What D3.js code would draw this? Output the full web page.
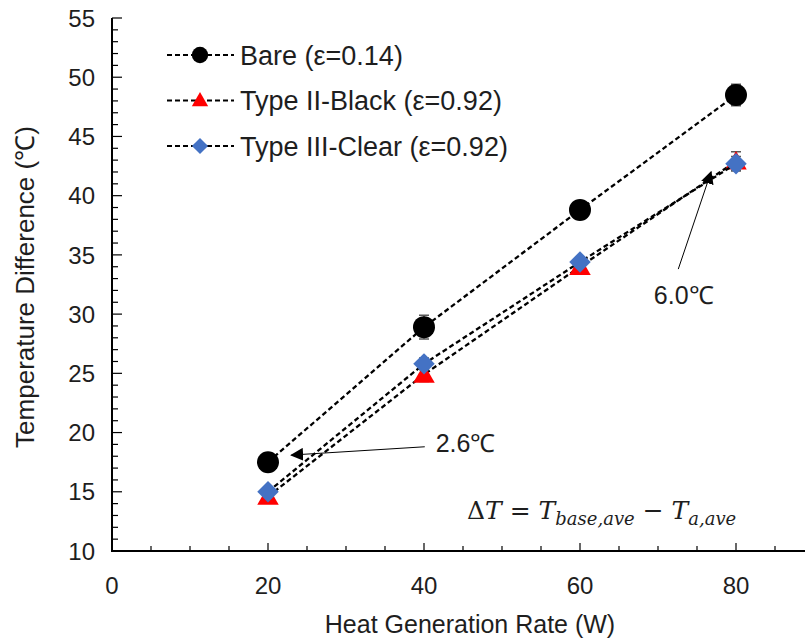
<!DOCTYPE html>
<html>
<head>
<meta charset="utf-8">
<script src="https://cdn.jsdelivr.net/npm/d3@7"></script>
<style>
  body { margin: 0; background: #fff; }
  svg { display: block; font-family: "Liberation Sans", Arial, sans-serif; }
</style>
</head>
<body>
<div id="graph"></div>
<script>
// Données
const power = [20, 40, 60, 80];
const bare = [17.5, 28.9, 38.8, 48.5];
const bareErr = [0.4, 1.0, 0.6, 0.9];
const black = [14.6, 24.9, 34.0, 42.9];
const blackErr = [0.4, 0.6, 0.5, 0.8];
const clear = [15.0, 25.8, 34.4, 42.7];
const clearErr = [0.4, 0.5, 0.4, 0.6];
const seriesNames = ["Bare (ε=0.14)", "Type II-Black (ε=0.92)", "Type III-Clear (ε=0.92)"];
const xTicks = [0, 20, 40, 60, 80];
const yTicks = [10, 15, 20, 25, 30, 35, 40, 45, 50, 55];
// annotations [x, y] en unités des données
const notes = [
  { label: "2.6℃", from: [40.1, 18.8], to: [23.0, 18.1], text: [41.5, 19.1], anchor: "start" },
  { label: "6.0℃", from: [72.6, 33.8], to: [76.8, 42.0], text: [73.3, 31.6], anchor: "middle" }
];

const W = 805, H = 642;
const svg = d3.select("#graph").append("svg")
  .attr("width", W).attr("height", H);

const x = d3.scaleLinear().domain([0, 90]).range([112, 814]);
const y = d3.scaleLinear().domain([10, 55]).range([551, 18]);

const textColor = "#1e1e1e";

// Axes
const gx = svg.append("g").attr("transform", `translate(0,${y(10)})`);
gx.append("line").attr("x1", x(0) - 1).attr("x2", W).attr("stroke", "#000").attr("stroke-width", 2);
gx.selectAll(".minor").data(d3.range(5, 90, 5)).enter().append("line")
  .attr("x1", d => x(d)).attr("x2", d => x(d))
  .attr("y1", 0).attr("y2", d => d % 20 === 0 ? -8 : -5)
  .attr("stroke", "#000").attr("stroke-width", 1.2);
gx.selectAll(".lbl").data(xTicks).enter().append("text")
  .attr("x", d => x(d)).attr("y", 43)
  .attr("text-anchor", "middle").style("font-size", "24px").attr("fill", textColor)
  .text(d => d);

const gy = svg.append("g").attr("transform", `translate(${x(0)},0)`);
gy.append("line").attr("y1", y(10)).attr("y2", y(55)).attr("stroke", "#000").attr("stroke-width", 2);
gy.selectAll(".minor").data(d3.range(11, 56, 1)).enter().append("line")
  .attr("y1", d => y(d)).attr("y2", d => y(d))
  .attr("x1", 0).attr("x2", d => d % 5 === 0 ? 10 : 6)
  .attr("stroke", "#000").attr("stroke-width", 1.2);
gy.selectAll(".lbl").data(yTicks).enter().append("text")
  .attr("x", -17).attr("y", d => y(d)).attr("dy", "0.36em")
  .attr("text-anchor", "end").style("font-size", "24px").attr("fill", textColor)
  .text(d => d);

// Titres des axes
svg.append("text")
  .attr("x", 470).attr("y", 633)
  .attr("text-anchor", "middle").style("font-size", "25px").attr("fill", textColor)
  .text("Heat Generation Rate (W)");
svg.append("text")
  .attr("transform", `translate(34,${287}) rotate(-90)`)
  .attr("text-anchor", "middle").style("font-size", "26px").attr("fill", textColor)
  .text("Temperature Difference (℃)");

// Symboles
const markers = [
  { fill: "#000", path: d3.symbol().type(d3.symbolCircle).size(380), legend: d3.symbol().type(d3.symbolCircle).size(210), rot: 0 },
  { fill: "#ff0000", path: d3.symbol().type(d3.symbolTriangle).size(200), legend: d3.symbol().type(d3.symbolTriangle).size(115), rot: 0 },
  { fill: "#4472c4", path: d3.symbol().type(d3.symbolSquare).size(230), legend: d3.symbol().type(d3.symbolSquare).size(130), rot: 45 }
];

const series = [
  { vals: bare, err: bareErr },
  { vals: black, err: blackErr },
  { vals: clear, err: clearErr }
];

const line = d3.line().x(d => x(d[0])).y(d => y(d[1]));

series.forEach((s, i) => {
  const pts = power.map((p, j) => [p, s.vals[j], s.err[j]]);
  const g = svg.append("g");
  g.append("path").datum(pts)
    .attr("d", line).attr("fill", "none")
    .attr("stroke", "#000").attr("stroke-width", 2.3)
    .attr("stroke-dasharray", "5,3");
  // barres d'erreur
  g.selectAll(".err").data(pts).enter().append("path")
    .attr("d", d => {
      const x0 = x(d[0]), y1 = y(d[1] + d[2]), y2 = y(d[1] - d[2]);
      return `M${x0 - 5},${y1}H${x0 + 5}M${x0},${y1}V${y2}M${x0 - 5},${y2}H${x0 + 5}`;
    })
    .attr("stroke", "#595959").attr("stroke-width", 1.5).attr("fill", "none");
  g.selectAll(".pt").data(pts).enter().append("path")
    .attr("d", markers[i].path)
    .attr("transform", d => `translate(${x(d[0])},${y(d[1]) + (i === 1 ? 2 : 0)}) rotate(${markers[i].rot})`)
    .attr("fill", markers[i].fill);
});

// Légende
const legend = svg.append("g");
seriesNames.forEach((name, i) => {
  const ly = 55 + i * 45.5;
  legend.append("line")
    .attr("x1", 167).attr("x2", 234).attr("y1", ly).attr("y2", ly)
    .attr("stroke", "#000").attr("stroke-width", 2).attr("stroke-dasharray", "5,3");
  legend.append("path")
    .attr("d", markers[i].legend)
    .attr("transform", `translate(200,${ly + (i === 1 ? 1 : 0)}) rotate(${markers[i].rot})`)
    .attr("fill", markers[i].fill);
  legend.append("text")
    .attr("x", 240).attr("y", ly).attr("dy", "0.36em")
    .style("font-size", "27px").attr("fill", textColor)
    .text(name);
});

// Annotations
const defs = svg.append("defs");
defs.append("marker")
  .attr("id", "arrow").attr("viewBox", "0 0 10 10")
  .attr("refX", 9).attr("refY", 5)
  .attr("markerWidth", 13).attr("markerHeight", 13)
  .attr("markerUnits", "userSpaceOnUse")
  .attr("orient", "auto")
  .append("path").attr("d", "M0,0L10,5L0,10Z").attr("fill", "#000");

notes.forEach(n => {
  svg.append("line")
    .attr("x1", x(n.from[0])).attr("y1", y(n.from[1]))
    .attr("x2", x(n.to[0])).attr("y2", y(n.to[1]))
    .attr("stroke", "#000").attr("stroke-width", 1)
    .attr("marker-end", "url(#arrow)");
  svg.append("text")
    .attr("x", x(n.text[0])).attr("y", y(n.text[1])).attr("dy", "0.36em")
    .attr("text-anchor", n.anchor)
    .style("font-size", "25px").attr("fill", textColor)
    .text(n.label);
});

// Équation
const eq = svg.append("text")
  .attr("x", 467).attr("y", 519)
  .style("font-family", "'DejaVu Serif', 'Liberation Serif', serif")
  .style("font-size", "25px").attr("fill", textColor);
eq.append("tspan").text("Δ");
eq.append("tspan").style("font-style", "italic").text("T");
eq.append("tspan").text(" =  ");
eq.append("tspan").style("font-style", "italic").text("T");
eq.append("tspan").style("font-style", "italic").style("font-size", "18px").attr("dy", 6).text("base,ave");
eq.append("tspan").attr("dy", -6).text(" − ");
eq.append("tspan").style("font-style", "italic").text("T");
eq.append("tspan").style("font-style", "italic").style("font-size", "18px").attr("dy", 6).text("a,ave");
</script>
</body>
</html>
